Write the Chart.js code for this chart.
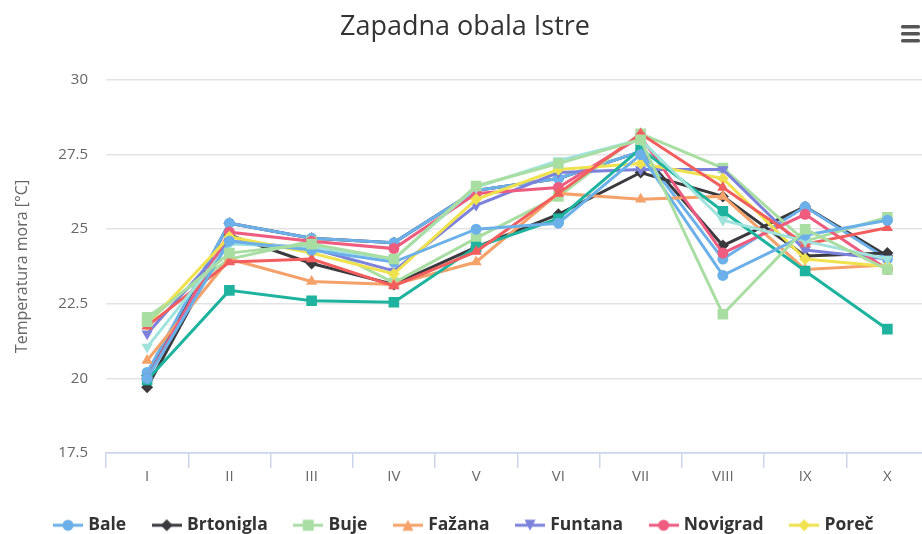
<!DOCTYPE html>
<html>
<head>
<meta charset="utf-8">
<script src="https://cdn.jsdelivr.net/npm/chart.js@4.4.1/dist/chart.umd.min.js"></script>
<style>
  html, body { margin: 0; padding: 0; background: #ffffff; overflow: hidden; }
  #wrap { width: 922px; height: 534px; overflow: hidden; position: relative; }
  canvas { display: block; }
</style>
</head>
<body>
<div id="wrap"><canvas id="c" width="936" height="544"></canvas></div>
<script>
// ---- data ----
const months = ['I', 'II', 'III', 'IV', 'V', 'VI', 'VII', 'VIII', 'IX', 'X'];
const yTicks = [17.5, 20, 22.5, 25, 27.5, 30];
const seriesNames = ['Bale', 'Brtonigla', 'Buje', 'Fažana', 'Funtana', 'Novigrad', 'Poreč',
                     'Pula', 'Rovinj', 'Tar-Vabriga', 'Umag', 'Vodnjan', 'Vrsar'];
const bale       = [20.2, 25.2, 24.7, 24.55, 26.3, 26.7, 27.6, 24.0, 25.75, 24.0];
const brtonigla  = [19.7, 24.8, 23.85, 23.15, 24.4, 25.5, 26.9, 26.1, 24.1, 24.2];
const buje       = [22.05, 24.0, 24.6, 23.2, 24.7, 26.1, 28.2, 27.05, 24.6, 25.4];
const fazana     = [20.6, 24.0, 23.25, 23.15, 23.9, 26.2, 26.0, 26.1, 23.65, 23.8];
const funtana    = [21.5, 24.6, 24.35, 23.6, 25.8, 26.9, 27.0, 27.0, 24.3, 24.0];
const novigrad   = [20.0, 24.9, 24.6, 24.35, 26.2, 26.4, 28.1, 24.2, 25.5, 23.65];
const porec      = [21.8, 24.75, 24.2, 23.5, 26.0, 27.0, 27.2, 26.7, 24.0, 23.75];
const pula       = [19.95, 22.95, 22.6, 22.55, 24.4, 25.35, 27.7, 25.6, 23.6, 21.65];
const rovinj     = [21.75, 23.9, 24.0, 23.1, 24.25, 26.2, 28.2, 26.4, 24.5, 25.05];
const tarVabriga = [21.05, 24.5, 24.4, 24.0, 26.4, 27.3, 28.0, 25.3, 24.6, 24.0];
const umag       = [20.0, 24.6, 24.3, 23.9, 25.0, 25.2, 27.5, 23.45, 24.8, 25.3];
const vodnjan    = [20.1, 25.2, 24.7, 24.55, 26.3, 26.7, 27.6, 24.45, 25.75, 24.1];
const vrsar      = [21.9, 24.2, 24.5, 24.0, 26.45, 27.2, 28.0, 22.15, 25.0, 23.65];
const seriesValues = [bale, brtonigla, buje, fazana, funtana, novigrad, porec,
                      pula, rovinj, tarVabriga, umag, vodnjan, vrsar];

// ---- styles ----
const seriesColors = ['#6cb0ea', '#3a3a3e', '#a9dea3', '#f5a26a', '#7c82dc', '#ee5c80', '#f0e24e',
                      '#1db39e', '#f25e5e', '#9fe3dc', '#6cb0ea', '#3a3a3e', '#a9dea3'];
const markerKinds = ['circle', 'diamond', 'square', 'triangle', 'triangle-down'];
// drawing order (lower = drawn later, on top)
const drawOrder = [0, -1, -2, -3, -4, -5, -6, -7, -8, -9, -10, 5, -12];

function markerOpts(kind) {
  switch (kind) {
    case 'circle': return { pointStyle: 'circle', pointRadius: 5.5, pointRotation: 0 };
    case 'diamond': return { pointStyle: 'rectRot', pointRadius: 6, pointRotation: 0 };
    case 'square': return { pointStyle: 'rect', pointRadius: 7.5, pointRotation: 0 };
    case 'triangle': return { pointStyle: 'triangle', pointRadius: 6.5, pointRotation: 0 };
    default: return { pointStyle: 'triangle', pointRadius: 6.5, pointRotation: 180 };
  }
}

function makeIcon(color, kind) {
  const c = document.createElement('canvas');
  c.width = 30; c.height = 14;
  const g = c.getContext('2d');
  g.strokeStyle = color; g.lineWidth = 3;
  g.beginPath(); g.moveTo(0, 7); g.lineTo(30, 7); g.stroke();
  g.fillStyle = color;
  const cx = 15, cy = 7, r = 5.5;
  g.beginPath();
  if (kind === 'circle') { g.arc(cx, cy, r, 0, Math.PI * 2); }
  else if (kind === 'diamond') { g.moveTo(cx, cy - r - 0.5); g.lineTo(cx + r + 0.5, cy); g.lineTo(cx, cy + r + 0.5); g.lineTo(cx - r - 0.5, cy); g.closePath(); }
  else if (kind === 'square') { g.rect(cx - r, cy - r, 2 * r, 2 * r); }
  else if (kind === 'triangle') { g.moveTo(cx, cy - r); g.lineTo(cx + r, cy + r); g.lineTo(cx - r, cy + r); g.closePath(); }
  else { g.moveTo(cx - r, cy - r); g.lineTo(cx + r, cy - r); g.lineTo(cx, cy + r); g.closePath(); }
  g.fill();
  return c;
}

const legendIcons = seriesNames.map((_, i) => makeIcon(seriesColors[i], markerKinds[i % 5]));

const datasets = seriesNames.map((name, i) => Object.assign({
  label: name,
  data: seriesValues[i],
  borderColor: seriesColors[i],
  backgroundColor: seriesColors[i],
  pointBackgroundColor: seriesColors[i],
  pointBorderColor: seriesColors[i],
  pointBorderWidth: 0,
  borderWidth: 3,
  tension: 0,
  fill: false,
  order: drawOrder[i]
}, markerOpts(markerKinds[i % 5])));

const menuIcon = {
  id: 'menuIcon',
  afterDraw(chart) {
    const ctx = chart.ctx;
    ctx.save();
    ctx.fillStyle = '#555555';
    for (let k = 0; k < 3; k++) {
      ctx.beginPath();
      ctx.roundRect(901, 25 + k * 7, 19, 3.5, 1.5);
      ctx.fill();
    }
    ctx.restore();
  }
};

Chart.defaults.font.family = "'Open Sans', 'DejaVu Sans', sans-serif";

new Chart(document.getElementById('c'), {
  type: 'line',
  data: { labels: months, datasets: datasets },
  plugins: [menuIcon],
  options: {
    responsive: false,
    animation: false,
    layout: { padding: { left: 0, right: 6, top: 0, bottom: 0 } },
    plugins: {
      tooltip: { enabled: false },
      title: {
        display: true,
        text: 'Zapadna obala Istre',
        color: '#333333',
        font: { size: 27, weight: 'normal' },
        padding: { top: 11, bottom: 36.6 }
      },
      legend: {
        position: 'bottom',
        labels: {
          usePointStyle: true,
          pointStyleWidth: 23,
          padding: 29,
          color: '#333333',
          font: { size: 17.5, weight: 'bold' },
          filter: (item) => item.datasetIndex < 7,
          sort: (a, b) => a.datasetIndex - b.datasetIndex,
          generateLabels: (chart) => Chart.defaults.plugins.legend.labels.generateLabels(chart)
            .map(item => Object.assign(item, { pointStyle: legendIcons[item.datasetIndex], rotation: 0 }))
        }
      }
    },
    scales: {
      x: {
        offset: true,
        grid: {
          offset: true,
          drawOnChartArea: false,
          drawTicks: true,
          tickLength: 15,
          color: '#ccd6eb',
          lineWidth: 1.5
        },
        border: { display: true, color: '#ccd6eb', width: 1.5 },
        ticks: { color: '#666666', font: { size: 15 }, padding: 0, maxRotation: 0 },
        afterFit: (s) => { s.height = 34.5; }
      },
      y: {
        min: 17.5,
        max: 30,
        afterBuildTicks: (s) => { s.ticks = yTicks.map(v => ({ value: v })); },
        ticks: { color: '#666666', font: { size: 15 }, padding: 18 },
        grid: {
          drawTicks: false,
          color: (c) => (c.tick && c.tick.value === 17.5) ? '#ccd6eb' : '#e3e3e3',
          lineWidth: 1.5
        },
        border: { display: false },
        title: {
          display: true,
          text: 'Temperatura mora [°C]',
          color: '#666666',
          font: { size: 16 },
          padding: { top: 13, bottom: 0 }
        },
        afterFit: (s) => { s.width = 106; }
      }
    }
  }
});
</script>
</body>
</html>
